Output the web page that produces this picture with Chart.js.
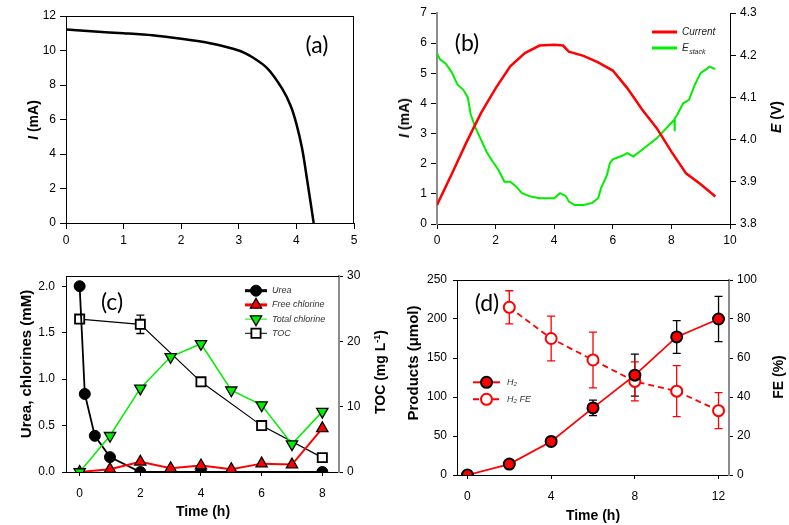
<!DOCTYPE html>
<html>
<head>
<meta charset="utf-8">
<script src="https://cdn.jsdelivr.net/npm/chart.js@4.4.0/dist/chart.umd.min.js"></script>
<style>
  body { margin: 0; width: 789px; height: 525px; position: relative; overflow: hidden; background: #fff; font-family: "Liberation Sans", Arial, sans-serif; }
  canvas { position: absolute; }
  .t { position: absolute; white-space: nowrap; font-weight: bold; font-size: 14px; color: #000; transform: translate(-50%, -50%); }
  .r { transform: translate(-50%, -50%) rotate(-90deg); }
  .p { position: absolute; white-space: nowrap; font-family: Lato, "Open Sans", sans-serif; font-size: 23px; color: #000; transform: translate(-50%, -50%); }
</style>
</head>
<body>
<canvas id="ca" width="390" height="260" style="left:0;top:0"></canvas>
<canvas id="cb" width="399" height="260" style="left:390px;top:0"></canvas>
<canvas id="cc" width="390" height="265" style="left:0;top:260px"></canvas>
<canvas id="cd" width="399" height="265" style="left:390px;top:260px"></canvas>

<div class="t r" style="left:33px;top:120px"><i>I</i> (mA)</div>
<div class="t r" style="left:404px;top:118px"><i>I</i> (mA)</div>
<div class="t r" style="left:776px;top:117px"><i>E</i> (V)</div>
<div class="t r" style="left:25px;top:364px;font-size:15px">Urea, chlorines (mM)</div>
<div class="t r" style="left:380px;top:372px">TOC (mg L<sup style="font-size:9px">-1</sup>)</div>
<div class="t" style="left:203px;top:511px">Time (h)</div>
<div class="t r" style="left:412px;top:363px;font-size:15px">Products (μmol)</div>
<div class="t r" style="left:778px;top:377px">FE (%)</div>
<div class="t" style="left:593px;top:515px">Time (h)</div>

<div class="p" style="left:317px;top:44px">(a)</div>
<div class="p" style="left:467px;top:42px">(b)</div>
<div class="p" style="left:112px;top:301px">(c)</div>
<div class="p" style="left:487px;top:302px">(d)</div>

<script>
  'use strict';

  // --- (a) I-V curve ---
  var aVolt = [0, 0.5, 1, 1.5, 2, 2.5, 3, 3.25, 3.5, 3.75, 3.9, 4.0, 4.1, 4.2, 4.3];
  var aCurr = [11.22, 11.1, 11.0, 10.88, 10.68, 10.42, 10.0, 9.58, 8.95, 7.8, 6.8, 5.75, 4.3, 2.2, 0];
  var aTicksX = [0, 1, 2, 3, 4, 5];
  var aTicksY = [0, 2, 4, 6, 8, 10, 12];

  // --- (b) current and stack potential vs time ---
  var bTime = [0, 0.5, 1, 1.5, 2, 2.5, 3, 3.5, 4, 4.3, 4.5, 5, 5.5, 6, 6.5, 7, 7.5, 8, 8.5, 9, 9.5];
  var bCurrent = [0.63, 1.65, 2.7, 3.68, 4.5, 5.23, 5.67, 5.92, 5.95, 5.92, 5.72, 5.58, 5.36, 5.09, 4.5, 3.8, 3.18, 2.4, 1.68, 1.32, 0.91];
  var bStackTime = [0, 0.1, 0.3, 0.5, 0.7, 0.9, 1.05, 1.15, 1.3, 1.5, 1.7, 1.9, 2.1, 2.3, 2.5, 2.7, 2.9, 3.2, 3.5, 4.0, 4.2, 4.4, 4.5, 4.7, 5.0, 5.3, 5.5, 5.6, 5.8, 5.9, 6.0, 6.3, 6.5, 6.7, 7.0, 7.5, 8.0, 8.1, 8.11, 8.12, 8.2, 8.4, 8.6, 8.8, 9.0, 9.2, 9.3, 9.5];
  var bStack = [4.205, 4.19, 4.18, 4.16, 4.13, 4.118, 4.10, 4.06, 4.03, 4.0, 3.97, 3.948, 3.928, 3.9, 3.9, 3.889, 3.873, 3.865, 3.861, 3.861, 3.873, 3.866, 3.853, 3.845, 3.845, 3.85, 3.861, 3.885, 3.916, 3.944, 3.953, 3.961, 3.968, 3.96, 3.976, 4.003, 4.04, 4.047, 4.02, 4.05, 4.059, 4.086, 4.094, 4.13, 4.158, 4.167, 4.173, 4.167];
  var bTicksX = [0, 2, 4, 6, 8, 10];
  var bTicksY = [0, 1, 2, 3, 4, 5, 6, 7];
  var bTicksE = [3.8, 3.9, 4.0, 4.1, 4.2, 4.3];

  // --- (c) urea, chlorines, TOC ---
  var cUreaTime = [0, 0.17, 0.5, 1, 2, 4, 8];
  var cUrea = [2.0, 0.84, 0.39, 0.16, 0, 0, 0];
  var cClTime = [0, 1, 2, 3, 4, 5, 6, 7, 8];
  var cFreeCl = [0, 0.03, 0.11, 0.04, 0.07, 0.03, 0.09, 0.08, 0.47];
  var cTotalCl = [0, 0.39, 0.90, 1.24, 1.38, 0.88, 0.72, 0.30, 0.65];
  var cTocTime = [0, 2, 4, 6, 8];
  var cToc = [23.4, 22.6, 13.8, 7.1, 2.2];
  var cTocErr = [0, 1.4, 0, 0, 0];
  var cTicksX = [0, 2, 4, 6, 8];
  var cTicksY = [0, 0.5, 1.0, 1.5, 2.0];
  var cTicksToc = [0, 10, 20, 30];

  // --- (d) H2 products and faradaic efficiency ---
  var dTime = [0, 2, 4, 6, 8, 10, 12];
  var dH2 = [0, 14, 43, 86, 128, 177, 200];
  var dH2Err = [0, 0, 0, 10, 27, 21, 29];
  var dFeTime = [2, 4, 6, 8, 10, 12];
  var dFe = [86, 70, 59, 48, 43, 33];
  var dFeErr = [8.5, 11.5, 14.3, 10, 13.1, 9.2];
  var dTicksX = [0, 4, 8, 12];
  var dTicksY = [0, 50, 100, 150, 200, 250];
  var dTicksFe = [0, 20, 40, 60, 80, 100];

  var RED = '#ff0000';
  var GREEN = '#00ee00';
  var GREY = '#8c8c8c';
  var FONT = '"Liberation Sans", Arial, sans-serif';

  function pts(xs, ys) {
    return xs.map(function (x, i) { return { x: x, y: ys[i] }; });
  }

  // --- plugins ---

  // error bars from ds.errors, drawn under the markers
  var errPlugin = {
    id: 'errBars',
    beforeDatasetsDraw: function (chart) {
      var ctx = chart.ctx;
      chart.data.datasets.forEach(function (ds, i) {
        if (!ds.errors) return;
        var meta = chart.getDatasetMeta(i);
        var ys = chart.scales[ds.yAxisID || 'y'];
        ctx.save();
        ctx.strokeStyle = ds.errorColor;
        ctx.lineWidth = 1.3;
        ds.data.forEach(function (p, j) {
          var e = ds.errors[j];
          if (!e) return;
          var x = meta.data[j].x;
          var top = ys.getPixelForValue(p.y + e);
          var bot = ys.getPixelForValue(p.y - e);
          ctx.beginPath();
          ctx.moveTo(x, top); ctx.lineTo(x, bot);
          ctx.moveTo(x - 4, top); ctx.lineTo(x + 4, top);
          ctx.moveTo(x - 4, bot); ctx.lineTo(x + 4, bot);
          ctx.stroke();
        });
        ctx.restore();
      });
    }
  };

  // extra top / right frame lines
  var framePlugin = {
    id: 'frame',
    afterDraw: function (chart, args, opts) {
      var a = chart.chartArea;
      var ctx = chart.ctx;
      ctx.save();
      ctx.strokeStyle = '#000';
      ctx.lineWidth = 1;
      if (opts.top) {
        ctx.beginPath(); ctx.moveTo(a.left, a.top + 0.5); ctx.lineTo(a.right, a.top + 0.5); ctx.stroke();
      }
      if (opts.right) {
        ctx.beginPath(); ctx.moveTo(a.right - 0.5, a.top); ctx.lineTo(a.right - 0.5, a.bottom); ctx.stroke();
      }
      ctx.restore();
    }
  };

  // small legend: line + marker + italic label, styled from the datasets
  var keyPlugin = {
    id: 'key',
    afterDraw: function (chart, args, opts) {
      if (!opts.x) return;
      var ctx = chart.ctx;
      chart.data.datasets.forEach(function (ds, i) {
        var y = opts.y + i * opts.gap;
        var lw = ds.keyLine || ds.borderWidth;
        ctx.save();
        ctx.strokeStyle = ds.borderColor;
        ctx.lineWidth = lw;
        ctx.setLineDash(ds.borderDash || []);
        ctx.beginPath();
        ctx.moveTo(opts.x, y); ctx.lineTo(opts.x + opts.len, y);
        ctx.stroke();
        ctx.setLineDash([]);
        if (ds.pointRadius) {
          ctx.fillStyle = ds.pointBackgroundColor;
          ctx.strokeStyle = ds.pointBorderColor;
          ctx.lineWidth = ds.pointBorderWidth;
          Chart.helpers.drawPoint(ctx, {
            pointStyle: ds.pointStyle, radius: ds.pointRadius,
            rotation: ds.pointRotation || 0, borderWidth: ds.pointBorderWidth
          }, opts.x + opts.len / 2, y);
        }
        ctx.fillStyle = opts.color;
        ctx.textBaseline = 'middle';
        ctx.font = 'italic ' + opts.size + 'px ' + FONT;
        var tx = opts.x + opts.len + opts.pad;
        ctx.fillText(ds.label, tx, y);
        if (ds.labelSub) {
          var w = ctx.measureText(ds.label).width;
          ctx.font = 'italic ' + Math.round(opts.size * 0.7) + 'px ' + FONT;
          ctx.fillText(ds.labelSub, tx + w + 0.5, y + 4);
        }
        ctx.restore();
      });
    }
  };

  Chart.register(errPlugin, framePlugin, keyPlugin);

  // one axis with fixed thickness so every panel lines up with the picture
  function axis(pos, min, max, list, size, o) {
    o = o || {};
    return {
      type: 'linear', position: pos, min: min, max: max,
      afterBuildTicks: function (s) { s.ticks = list.map(function (v) { return { value: v }; }); },
      afterFit: function (s) { if (pos === 'bottom') s.height = size; else s.width = size; },
      grid: { drawOnChartArea: false, drawTicks: true, tickLength: o.tick || 5, color: '#000' },
      border: { color: o.color || '#000', width: o.width || 1 },
      ticks: {
        color: '#000', padding: o.pad || 4, maxRotation: 0,
        font: { size: 12, family: FONT },
        callback: function (v) { return o.dec ? v.toFixed(o.dec) : String(v); }
      }
    };
  }

  function base(padTop, padRight) {
    return {
      responsive: false,
      animation: false,
      layout: { padding: { top: padTop, right: padRight || 0, left: 0, bottom: 0 } },
      plugins: { legend: { display: false }, tooltip: { enabled: false } }
    };
  }

  // --- (a) ---
  var optA = base(16, 36);
  optA.scales = {
    x: axis('bottom', 0, 5, aTicksX, 37, { tick: 6 }),
    y: axis('left', 0, 12, aTicksY, 66, { tick: 6 })
  };
  optA.plugins.frame = { top: true, right: true };
  new Chart(document.getElementById('ca'), {
    type: 'line',
    data: {
      datasets: [{
        label: 'I-V', data: pts(aVolt, aCurr),
        borderColor: '#000', borderWidth: 2.5, pointRadius: 0, tension: 0.3
      }]
    },
    options: optA
  });

  // --- (b) ---
  var optB = base(13, 0);
  optB.scales = {
    x: axis('bottom', 0, 10, bTicksX, 36, { tick: 5 }),
    y: axis('left', 0, 7, bTicksY, 47, { tick: 6, color: GREY, width: 2 }),
    y2: axis('right', 3.8, 4.3, bTicksE, 59, { tick: 6, dec: 1 })
  };
  optB.plugins.key = { x: 262, y: 32, gap: 16, len: 25, pad: 5, size: 10, color: '#222' };
  new Chart(document.getElementById('cb'), {
    type: 'line',
    data: {
      datasets: [{
        label: 'Current', data: pts(bTime, bCurrent), yAxisID: 'y',
        borderColor: RED, borderWidth: 2.5, keyLine: 3, pointRadius: 0
      }, {
        label: 'E', labelSub: 'stack', data: pts(bStackTime, bStack), yAxisID: 'y2',
        borderColor: GREEN, borderWidth: 2, keyLine: 3, pointRadius: 0
      }]
    },
    options: optB
  });

  // --- (c) ---
  var optC = base(16, 0);
  optC.scales = {
    x: axis('bottom', -0.45, 8.55, cTicksX, 53, { tick: 4, pad: 10 }),
    y: axis('left', 0, 2.11, cTicksY, 66, { tick: 4, pad: 7, dec: 1 }),
    y2: axis('right', 0, 30, cTicksToc, 51, { tick: 4, pad: 4, color: GREY, width: 2 })
  };
  optC.plugins.frame = { top: true };
  optC.plugins.key = { x: 245, y: 30.7, gap: 14.2, len: 22, pad: 5, size: 9, color: '#333' };
  new Chart(document.getElementById('cc'), {
    type: 'line',
    data: {
      datasets: [{
        label: 'Urea', data: pts(cUreaTime, cUrea), yAxisID: 'y', order: 2,
        borderColor: '#000', borderWidth: 1.8, keyLine: 3,
        pointStyle: 'circle', pointRadius: 5.5, pointBackgroundColor: '#000',
        pointBorderColor: '#000', pointBorderWidth: 1
      }, {
        label: 'Free chlorine', data: pts(cClTime, cFreeCl), yAxisID: 'y', order: 1,
        borderColor: RED, borderWidth: 2, keyLine: 3,
        pointStyle: 'triangle', pointRadius: 6.5, pointBackgroundColor: RED,
        pointBorderColor: '#000', pointBorderWidth: 1.3
      }, {
        label: 'Total chlorine', data: pts(cClTime, cTotalCl), yAxisID: 'y', order: 0,
        borderColor: GREEN, borderWidth: 1.5, keyLine: 1,
        pointStyle: 'triangle', pointRotation: 180, pointRadius: 6.5, pointBackgroundColor: GREEN,
        pointBorderColor: '#000', pointBorderWidth: 1.3
      }, {
        label: 'TOC', data: pts(cTocTime, cToc), yAxisID: 'y2', order: 3,
        errors: cTocErr, errorColor: '#000',
        borderColor: '#000', borderWidth: 1.2, keyLine: 1,
        pointStyle: 'rect', pointRadius: 6.5, pointBackgroundColor: '#fff',
        pointBorderColor: '#000', pointBorderWidth: 1.8
      }]
    },
    options: optC
  });

  // --- (d) ---
  var optD = base(20, 0);
  optD.scales = {
    x: axis('bottom', -0.5, 12.5, dTicksX, 50, { tick: 4, pad: 10 }),
    y: axis('left', 0, 250, dTicksY, 67, { tick: 4, pad: 6 }),
    y2: axis('right', 0, 100, dTicksFe, 60, { tick: 4, pad: 4, color: GREY, width: 2 })
  };
  optD.plugins.frame = { top: true };
  optD.plugins.key = { x: 83, y: 122.3, gap: 17, len: 27, pad: 7, size: 9, color: '#333' };
  new Chart(document.getElementById('cd'), {
    type: 'line',
    data: {
      datasets: [{
        label: 'H\u2082', data: pts(dTime, dH2), yAxisID: 'y', order: 0,
        errors: dH2Err, errorColor: '#000',
        borderColor: RED, borderWidth: 1.8, keyLine: 2,
        pointStyle: 'circle', pointRadius: 5.5, pointBackgroundColor: RED,
        pointBorderColor: '#000', pointBorderWidth: 2
      }, {
        label: 'H\u2082 FE', data: pts(dFeTime, dFe), yAxisID: 'y2', order: 1,
        errors: dFeErr, errorColor: RED,
        borderColor: RED, borderWidth: 1.8, borderDash: [6, 4], keyLine: 2,
        pointStyle: 'circle', pointRadius: 5.5, pointBackgroundColor: '#fff',
        pointBorderColor: RED, pointBorderWidth: 2
      }]
    },
    options: optD
  });
</script>
</body>
</html>
